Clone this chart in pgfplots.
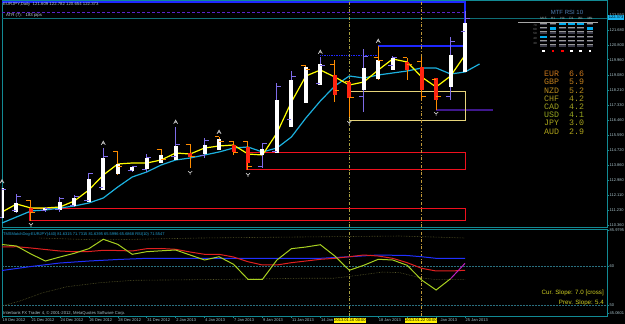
\documentclass[border=0pt]{standalone}
\usepackage{pgfplots}
\pgfplotsset{compat=1.18}
\usepackage{pgfplotstable}
\usepackage{fontspec}
\setmainfont{Liberation Sans}
\newfontfamily\monofont{Liberation Mono}

\definecolor{frame}{HTML}{128A94}
\definecolor{lbl}{HTML}{A9C3CB}
\definecolor{vio}{HTML}{7E6CE8}
\definecolor{org}{HTML}{FF8C00}
\definecolor{bred}{HTML}{FF2410}
\definecolor{maY}{HTML}{FFFF00}
\definecolor{maC}{HTML}{1CB0DE}
\definecolor{frac}{HTML}{C8C8C8}
\definecolor{objred}{HTML}{F0101E}
\definecolor{objyel}{HTML}{E6D47A}
\definecolor{objblue}{HTML}{1E28FF}
\definecolor{objpur}{HTML}{5A22C8}
\definecolor{vlineA}{HTML}{A8A040}
\definecolor{vlineB}{HTML}{C09838}
\definecolor{oscG}{HTML}{A8D020}
\definecolor{oscR}{HTML}{E02020}
\definecolor{oscB}{HTML}{2030FF}
\definecolor{oscM}{HTML}{C020C0}
\definecolor{band}{HTML}{5A5A2A}
\definecolor{lvl}{HTML}{2A7080}
\definecolor{slope}{HTML}{CFCF22}
\definecolor{rsititle}{HTML}{5080B6}
\definecolor{cellbg}{HTML}{3A3A48}
\definecolor{hdr}{HTML}{B0B0B0}

\pgfdeclareplotmark{otick}{\pgfpathmoveto{\pgfqpoint{-4.5pt}{0pt}}\pgfpathlineto{\pgfqpoint{0pt}{0pt}}\pgfusepathqstroke}
\pgfdeclareplotmark{ctick}{\pgfpathmoveto{\pgfqpoint{0pt}{0pt}}\pgfpathlineto{\pgfqpoint{4.5pt}{0pt}}\pgfusepathqstroke}
\pgfdeclareplotmark{fup}{%
 \pgfpathmoveto{\pgfqpoint{-2pt}{-1.8pt}}\pgfpathlineto{\pgfqpoint{0pt}{1.8pt}}\pgfpathlineto{\pgfqpoint{2pt}{-1.8pt}}%
 \pgfpathmoveto{\pgfqpoint{-1pt}{-0.3pt}}\pgfpathlineto{\pgfqpoint{1pt}{-0.3pt}}\pgfusepathqstroke}
\pgfdeclareplotmark{fdn}{%
 \pgfpathmoveto{\pgfqpoint{-2pt}{1.8pt}}\pgfpathlineto{\pgfqpoint{0pt}{0pt}}\pgfpathlineto{\pgfqpoint{2pt}{1.8pt}}%
 \pgfpathmoveto{\pgfqpoint{0pt}{0pt}}\pgfpathlineto{\pgfqpoint{0pt}{-1.8pt}}\pgfusepathqstroke}

% up (violet) bars: index, high, low, open, close
\pgfplotstableread{
i H L O C
0 112.632 110.718 110.776 112.400
1 112.168 111.066 111.182 111.994
3 111.414 111.124 111.182 111.298
4 111.994 111.124 111.240 111.878
5 112.110 111.414 111.472 111.994
6 113.386 111.704 111.762 113.328
7 114.836 112.400 112.516 114.314
9 113.792 113.444 113.502 113.734
10 114.488 113.444 113.560 114.256
12 116.054 114.140 114.314 115.010
14 115.416 114.256 114.372 115.242
18 115.126 113.676 113.734 115.068
19 118.606 114.546 114.604 118.374
20 119.302 116.054 116.460 118.954
22 120.114 118.490 118.548 119.592
25 120.578 116.924 117.794 120.114
27 120.172 119.360 119.592 120.056
31 121.274 117.620 117.794 120.984
32 122.782 120.654 121.609 122.373
}\vbars
% down (orange) bars
\pgfplotstableread{
i H L O C
2 111.762 110.602 111.762 111.066
8 114.604 113.270 114.604 113.734
11 114.778 113.966 114.720 114.140
13 115.068 113.676 115.010 114.314
15 115.474 114.720 115.474 115.184
16 115.184 114.430 115.184 114.546
17 115.184 113.560 115.184 113.734
21 119.650 117.446 119.592 119.360
23 119.940 117.504 119.650 118.142
24 118.780 116.634 118.664 117.736
26 120.752 118.780 120.056 119.882
28 120.056 118.780 120.056 119.650
29 120.114 117.620 119.824 117.794
30 118.896 117.040 118.780 117.794
}\obars
% white bodies: top, bottom
\pgfplotstableread{
i T B
0 112.516 110.776
1 111.646 111.124
3 111.356 111.240
4 111.704 111.240
5 111.936 111.472
6 113.038 111.704
7 114.256 112.400
8 113.908 113.328
9 113.734 113.502
10 114.256 113.618
11 114.430 113.966
12 114.952 114.140
14 115.010 114.488
15 115.358 114.720
18 114.778 114.430
19 117.620 114.546
20 118.780 116.054
21 119.534 117.446
22 119.708 118.490
25 119.476 118.200
26 119.940 118.838
27 120.056 119.360
31 120.230 118.374
32 122.086 119.244
}\wbody
% red bodies
\pgfplotstableread{
i T B
2 111.356 111.124
13 114.546 114.314
16 115.010 114.604
17 114.894 113.966
23 119.070 117.910
24 118.664 117.736
28 119.824 119.360
29 119.534 118.200
30 118.896 117.620
}\rbody

\begin{document}
\begin{tikzpicture}[x=1pt,y=1pt]
\fill[black] (0pt,0pt) rectangle (625pt,324pt);
\useasboundingbox (0pt,0pt) rectangle (625pt,324pt);

% ---------------- main price panel ----------------
\begin{axis}[
  at={(2pt,97pt)}, anchor=south west, scale only axis,
  width=605pt, height=227pt,
  xmin=0, xmax=41.81, ymin=110.254, ymax=123.42,
  axis line style={frame, line width=0.8pt},
  xtick=\empty,
  ytick={122.55,121.68,120.80,119.96,119.08,118.21,117.33,116.46,115.59,114.72,113.86,112.98,112.11,111.23,110.36},
  yticklabels={122.550,121.680,120.800,119.960,119.080,118.210,117.330,116.460,115.590,114.720,113.860,112.980,112.110,111.230,110.360},
  ytick pos=right, yticklabel pos=right, tick align=outside,
  major tick length=2pt, ytick style={frame, line width=0.5pt},
  yticklabel style={font=\fontsize{4}{4.5}\selectfont, text=lbl, inner sep=0.5pt, anchor=west},
]
% object lines
\addplot[objpur, densely dashed, line width=0.6pt] coordinates {(0,122.724) (32,122.724)};
\addplot[frame!80!black, line width=0.6pt] coordinates {(0,122.373) (41.81,122.373)};
\addplot[objblue, line width=1.6pt] coordinates {(0,123.304) (32,123.304) (32,120.752) (26,120.752)};
\addplot[objblue, densely dotted, line width=0.7pt] coordinates {(22,120.23) (26,120.23)};
\addplot[objpur!70!black, line width=1.4pt] coordinates {(30,117.04) (33.93,117.04)};
\addplot[objred, line width=1pt] coordinates {(1.935,111.298) (32,111.298) (32,110.602) (1.935,110.602) (1.935,111.298)};
\addplot[objred, line width=1pt] coordinates {(16.93,114.546) (32,114.546) (32,113.56) (16.93,113.56) (16.93,114.546)};
\addplot[objyel, line width=0.8pt] coordinates {(24,118.142) (32,118.142) (32,116.46) (24,116.46) (24,118.142)};
% vertical dash-dot cursor lines
\addplot[vlineA, dash dot, line width=0.7pt] coordinates {(24,110.254) (24,123.42)};
\addplot[vlineB, dash dot, line width=0.7pt] coordinates {(29,110.254) (29,123.42)};
% moving averages
\addplot[maC, line width=1.2pt] table {
x y
0 110.486
1 110.834
2 111.182
3 111.240
4 111.356
5 111.472
6 111.646
7 111.936
8 112.574
9 113.154
10 113.444
11 113.850
12 114.140
13 114.256
14 114.430
15 114.604
16 114.836
17 114.894
18 114.604
19 114.836
20 115.474
21 116.576
22 117.562
23 118.432
24 119.012
25 118.896
26 119.070
27 119.186
28 119.302
29 119.476
30 119.476
31 119.128
32 119.244
33 119.708
};
\addplot[maY, line width=1.2pt] table {
x y
0 111.124
1 111.588
2 111.356
3 111.356
4 111.414
5 111.762
6 112.400
7 113.270
8 113.908
9 113.966
10 113.966
11 114.140
12 114.546
13 114.488
14 114.836
15 114.952
16 115.010
17 114.488
18 114.430
19 115.706
20 117.504
21 119.012
22 119.360
23 118.954
24 118.490
25 118.664
26 119.360
27 119.998
28 119.824
29 118.954
30 118.374
31 119.012
32 120.230
};
% OHLC brackets
\addplot[draw=none, forget plot, error bars/.cd, y dir=plus, y explicit, error mark=none,
  error bar style={draw=vio, line width=1pt}]
  table[x=i, y=L, y error plus expr=\thisrow{H}-\thisrow{L}] {\vbars};
\addplot[only marks, mark=otick, mark options={draw=vio, line width=1pt}] table[x=i, y=O] {\vbars};
\addplot[only marks, mark=ctick, mark options={draw=vio, line width=1pt}] table[x=i, y=C] {\vbars};
\addplot[draw=none, forget plot, error bars/.cd, y dir=plus, y explicit, error mark=none,
  error bar style={draw=org, line width=1pt}]
  table[x=i, y=L, y error plus expr=\thisrow{H}-\thisrow{L}] {\obars};
\addplot[only marks, mark=otick, mark options={draw=org, line width=1pt}] table[x=i, y=O] {\obars};
\addplot[only marks, mark=ctick, mark options={draw=org, line width=1pt}] table[x=i, y=C] {\obars};
% candle bodies
\addplot[draw=none, forget plot, error bars/.cd, y dir=plus, y explicit, error mark=none,
  error bar style={draw=white, line width=4pt}]
  table[x=i, y=B, y error plus expr=\thisrow{T}-\thisrow{B}] {\wbody};
\addplot[draw=none, forget plot, error bars/.cd, y dir=plus, y explicit, error mark=none,
  error bar style={draw=bred, line width=4pt}]
  table[x=i, y=B, y error plus expr=\thisrow{T}-\thisrow{B}] {\rbody};
% fractals
\addplot[only marks, mark=fup, mark options={draw=frac, line width=0.7pt}] coordinates {
(0,112.90) (7,115.126) (12,116.344) (15,115.764) (22,120.404) (26,121.042)};
\addplot[only marks, mark=fdn, mark options={draw=frac, line width=0.7pt}] coordinates {
(2,110.37) (13,113.386) (17,113.27) (24,116.286) (30,116.808)};
\end{axis}

% ---------------- oscillator panel ----------------
\begin{axis}[
  at={(2pt,8pt)}, anchor=south west, scale only axis,
  width=605pt, height=87pt,
  xmin=0, xmax=41.81, ymin=47.18, ymax=69.49,
  axis line style={frame, line width=0.8pt},
  xtick={0,2,...,32},
  xticklabels={19 Dec 2012,21 Dec 2012,24 Dec 2012,26 Dec 2012,28 Dec 2012,31 Dec 2012,2 Jan 2013,4 Jan 2013,7 Jan 2013,9 Jan 2013,11 Jan 2013,14 Jan,,18 Jan 2013,,,25 Jan 2013},
  xtick pos=left, ytick pos=right, yticklabel pos=right, tick align=outside,
  major tick length=2pt, tick style={frame, line width=0.5pt},
  xticklabel style={font=\fontsize{4}{4.5}\selectfont, text=lbl, inner sep=0.5pt, anchor=north west},
  ytick={47.95,50,60,69.23}, yticklabels={45.0601,50,60,85.9795},
  yticklabel style={font=\fontsize{4}{4.5}\selectfont, text=lbl, inner sep=0.5pt, anchor=west},
]
\addplot[lvl, densely dotted, line width=0.5pt] coordinates {(0,60) (41.81,60)};
\addplot[lvl, densely dotted, line width=0.5pt] coordinates {(0,50) (41.81,50)};
\addplot[vlineA, dash dot, line width=0.7pt] coordinates {(24,47.18) (24,69.49)};
\addplot[vlineB, dash dot, line width=0.7pt] coordinates {(29,47.18) (29,69.49)};
% dotted bands
\addplot[band, densely dotted, line width=0.6pt] coordinates {
(2.6,67.18) (6.8,66.67) (13.7,67.18) (20.6,67.44) (27.5,67.69) (32,67.18)};
\addplot[band, densely dotted, line width=0.6pt] coordinates {
(0,49.74) (1.24,51.03) (2.83,53.15) (4.49,54.69) (6.77,55.72) (9.05,56.33) (15.96,56.59) (20.6,56.85) (22.87,56.85) (24.26,57.44) (26.33,58.46) (27.5,58.28) (28.89,57.0) (29.8,56.59) (32,56.59)};
% blue
\addplot[oscB, line width=1pt] coordinates {
(0,58.85) (2,59.87) (4,60.77) (6,61.28) (8,61.67) (10,61.97) (22,61.97) (24,62.38) (26,62.82) (28,62.69) (29,62.38) (30,61.97) (32,61.97)};
% red
\addplot[oscR, line width=1pt] table {
x y
0 64.87
1 64.95
2 64.62
3 64.23
4 63.85
5 63.67
6 63.72
7 64.03
8 63.97
9 63.85
10 64.44
11 64.49
12 64.28
13 63.59
14 63.00
15 63.00
16 62.31
17 61.10
18 60.26
19 60.26
20 60.85
21 61.28
22 61.72
23 61.97
24 62.38
25 62.82
26 62.56
27 61.97
28 60.85
29 59.41
30 58.72
31 58.72
32 58.90
};
% green
\addplot[oscG, line width=1pt] table {
x y
0 65.51
1 65.13
2 63.08
3 61.28
4 62.31
5 63.26
6 64.44
7 66.85
8 65.56
9 63.00
10 63.67
11 63.90
12 64.10
13 62.82
14 61.54
15 62.38
16 60.44
17 56.59
18 56.59
19 61.54
20 64.44
21 64.87
22 65.46
23 62.56
24 58.90
25 60.18
26 61.72
27 61.54
28 60.18
29 56.41
30 53.85
31 56.74
};
\addplot[oscM, line width=1pt] coordinates {(31,56.74) (32,60.69)};
\end{axis}

% ---------------- texts and widgets ----------------
\node[anchor=west, inner sep=0pt, font=\fontsize{4.3}{5}\selectfont, text=lbl!80!white] at (3,320) {EURJPY,Daily\ \ 121.609 122.782 120.654 122.373};
\node[anchor=west, inner sep=0pt, font=\fontsize{4.3}{5}\selectfont, text=lbl!80!white] at (6,309) {ATR (7):\ \ \ 183 pips};
\node[anchor=west, inner sep=0.6pt, fill=cyan!90!white, text=black, font=\fontsize{4}{4.5}\selectfont] at (608,306.5) {122.373};
\node[anchor=west, inner sep=0pt, font=\fontsize{4}{5}\selectfont, text=cyan!70!teal] at (3,90) {TMSMatchDog-EURJPY(440) 81.6315 71.7315 81.6395 65.5996 65.6868 RSI(10) 71.5547};
\node[anchor=west, inner sep=0pt, font=\fontsize{4.2}{5}\selectfont, text=lbl] at (3,11) {Interbank FX Trader 4, \textcopyright\ 2001-2012, MetaQuotes Software Corp.};
\node[anchor=east, inner sep=0pt, font=\fontsize{6.2}{7}\selectfont, text=slope] at (604,31) {Cur. Slope: 7.0 [cross]};
\node[anchor=east, inner sep=0pt, font=\fontsize{6.2}{7}\selectfont, text=slope] at (604,21.5) {Prev. Slope: 5.4};
% highlighted cursor dates and the partly covered date label
\node[inner sep=0.7pt, fill=yellow, text=black, font=\fontsize{4}{4.5}\selectfont] at (350,3.6) {2013.01.16 00:00};
\node[inner sep=0.7pt, fill=yellow, text=black, font=\fontsize{4}{4.5}\selectfont] at (421,3.6) {2013.01.22 00:00};
\node[anchor=west, inner sep=0.5pt, font=\fontsize{4}{4.5}\selectfont, text=lbl] at (440,3.6) {Jan 2013};

% MTF RSI widget
\node[inner sep=0pt, font=\fontsize{6}{7}\selectfont, text=rsititle] at (567,312) {MTF RSI 10};
\foreach \cx/\lab in {543.5/M15,553/H1,562.5/H4,571.5/D1,580.5/W1,590/MN}{
  \node[inner sep=0pt, font=\fontsize{3.2}{3.5}\selectfont, text=hdr] at (\cx,305.5) {\lab};
  \foreach \r in {0,...,5}{
    \fill[cellbg] (\cx-3.2,{300-4.3*\r-1.2}) rectangle (\cx+3.2,{300-4.3*\r+1.2});
    \draw[gray!80, line width=0.3pt] (\cx-3.2,{300-4.3*\r+1.2}) -- (\cx+3.2,{300-4.3*\r+1.2});
  }
}
\draw[gray!70, line width=0.3pt] (518,302) -- (598,302);
\foreach \yy/\lab in {299/70,295/60,291/50,286/40,281/30}{
  \node[inner sep=0pt, font=\fontsize{3}{3.5}\selectfont, text=gray] at (535,\yy) {\lab};
}
\foreach \cx/\r in {543.5/3,553/1,562.5/0,571.5/0,580.5/0,590/1}{
  \fill[cyan] (\cx-3.2,{300-4.3*\r-1.3}) rectangle (\cx+3.2,{300-4.3*\r+1.3});
}
\foreach \cx/\c in {543.5/white,553/red,562.5/red,571.5/white,580.5/white,590/white}{
  \fill[\c] (\cx-1.1,272) rectangle (\cx+1.1,274.2);
}
% currency strength list
\foreach \k/\cur/\val/\col in {0/EUR/6.6/C8761C,1/GBP/5.9/C4801C,2/NZD/5.2/B88A1E,3/CHF/4.2/A89820,4/CAD/4.2/A0A020,5/USD/4.1/98A820,6/JPY/3.0/A8A41C,7/AUD/2.9/B0A41A}{
  \definecolor{cc}{HTML}{\col}
  \node[anchor=west, inner sep=0pt, font=\monofont\fontsize{8.3}{9}\selectfont, text=cc] at (544,{250-8.2*\k}) {\cur};
  \node[anchor=west, inner sep=0pt, font=\monofont\fontsize{8.3}{9}\selectfont, text=cc] at (569,{250-8.2*\k}) {\val};
}
\end{tikzpicture}
\end{document}
